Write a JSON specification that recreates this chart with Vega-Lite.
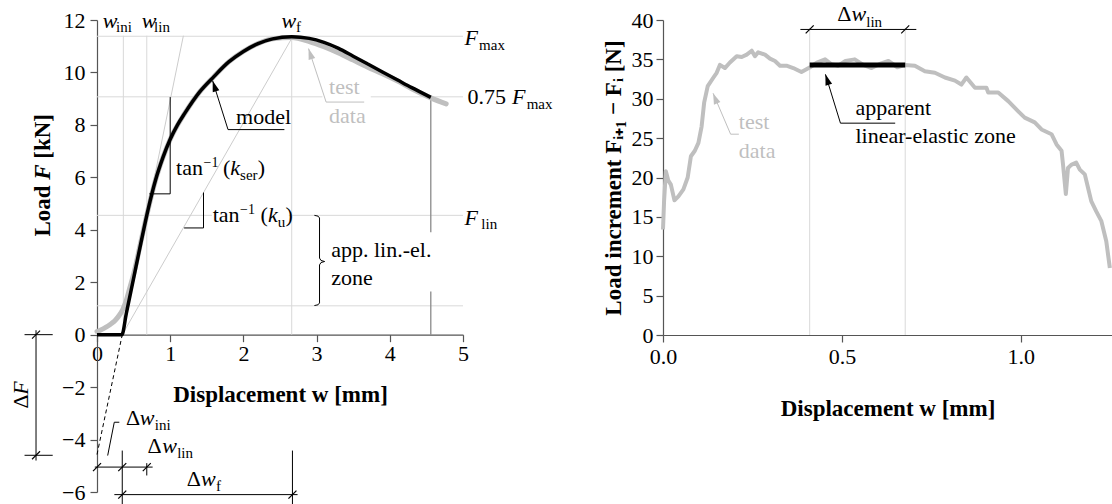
{
  "$schema": "https://vega.github.io/schema/vega-lite/v6.json",
  "background": "white",
  "autosize": {"type": "pad"},
  "padding": {"left": 9, "top": 3, "right": 0, "bottom": 0},
  "bounds": "flush",
  "spacing": 200,
  "config": {
    "view": {"stroke": null},
    "font": "Liberation Serif",
    "text": {"font": "Liberation Serif"},
    "axis": {"labelFont": "Liberation Serif", "titleFont": "Liberation Serif", "labelFontSize": 22, "titleFontSize": 23, "titleFontWeight": "bold", "labelColor": "black", "titleColor": "black", "domainColor": "#555555", "tickColor": "#555555", "tickSize": 7, "grid": false, "labelFlush": false, "labelOverlap": false, "domainWidth": 1.2, "tickWidth": 1.2}
  },
  "datasets": {
    "segL": [
      {"x": 0.36, "y": 0, "x2": 0.36, "y2": 11.4, "k": "grid"},
      {"x": 0.68, "y": 0, "x2": 0.68, "y2": 11.4, "k": "grid"},
      {"x": 2.66, "y": 0, "x2": 2.66, "y2": 11.36, "k": "grid"},
      {"x": 0, "y": 11.38, "x2": 5, "y2": 11.38, "k": "grid"},
      {"x": 0, "y": 9.07, "x2": 3.08, "y2": 9.07, "k": "grid"},
      {"x": 3.74, "y": 9.07, "x2": 5, "y2": 9.07, "k": "grid"},
      {"x": 0, "y": 4.55, "x2": 1.57, "y2": 4.55, "k": "grid"},
      {"x": 2.62, "y": 4.55, "x2": 5, "y2": 4.55, "k": "grid"},
      {"x": 0, "y": 1.1, "x2": 5, "y2": 1.1, "k": "grid"},
      {"x": 0.345, "y": 0, "x2": 1.18, "y2": 11.4, "k": "kl"},
      {"x": 0.345, "y": 0, "x2": 2.66, "y2": 11.3, "k": "kl"},
      {"x": 4.56, "y": 9.05, "x2": 4.56, "y2": 3.91, "k": "dg"},
      {"x": 4.56, "y": 1.65, "x2": 4.56, "y2": 0, "k": "dg"},
      {"x": 0.715, "y": 5.37, "x2": 1.0, "y2": 5.37, "k": "b"},
      {"x": 1.0, "y": 5.37, "x2": 1.0, "y2": 9.06, "k": "b"},
      {"x": 1.19, "y": 4.07, "x2": 1.455, "y2": 4.07, "k": "b"},
      {"x": 1.455, "y": 4.07, "x2": 1.455, "y2": 5.42, "k": "b"},
      {"x": 2.56, "y": 7.82, "x2": 1.79, "y2": 7.82, "k": "b"},
      {"x": 1.79, "y": 7.82, "x2": 1.58, "y2": 9.68, "k": "b"},
      {"x": 0.146, "y": -4.61, "x2": 0.236, "y2": -3.34, "k": "b"},
      {"x": 0.236, "y": -3.34, "x2": 0.305, "y2": -3.34, "k": "b"},
      {"x": -0.03, "y": -5.05, "x2": 0.76, "y2": -5.05, "k": "b"},
      {"x": 0.345, "y": -4.42, "x2": 0.345, "y2": -6.46, "k": "b"},
      {"x": 0.68, "y": -4.9, "x2": 0.68, "y2": -5.37, "k": "b"},
      {"x": 2.67, "y": -4.42, "x2": 2.67, "y2": -6.5, "k": "b"},
      {"x": 0.237, "y": -6.1, "x2": 2.74, "y2": -6.1, "k": "b"},
      {"x": -0.833, "y": 0.17, "x2": -0.833, "y2": -4.8, "k": "b"},
      {"x": -0.99, "y": 0, "x2": -0.605, "y2": 0, "k": "b"},
      {"x": -0.99, "y": -4.6, "x2": -0.605, "y2": -4.6, "k": "b"},
      {"x": 0, "y": -4.57, "x2": 0.345, "y2": 0, "k": "dash"},
      {"x": 3.65, "y": 8.87, "x2": 3.13, "y2": 8.87, "k": "gl"},
      {"x": 3.13, "y": 8.87, "x2": 2.89, "y2": 10.91, "k": "gl"}
    ],
    "ptL": [
      {"x": 0, "y": -5.05, "k": "sl"},
      {"x": 0.345, "y": -5.05, "k": "sl"},
      {"x": 0.68, "y": -5.05, "k": "sl"},
      {"x": 0.345, "y": -6.1, "k": "sl"},
      {"x": 2.67, "y": -6.1, "k": "sl"},
      {"x": -0.833, "y": 0, "k": "sl"},
      {"x": -0.833, "y": -4.6, "k": "sl"},
      {"x": 1.58, "y": 9.68, "k": "ab"},
      {"x": 2.89, "y": 10.91, "k": "ag"}
    ],
    "braceL": [
      {"x": 2.97, "y": 4.55, "o": 1}, {"x": 3.02, "y": 4.52, "o": 2}, {"x": 3.04, "y": 4.45, "o": 3},
      {"x": 3.04, "y": 2.92, "o": 4}, {"x": 3.06, "y": 2.83, "o": 5}, {"x": 3.11, "y": 2.79, "o": 6},
      {"x": 3.06, "y": 2.75, "o": 7}, {"x": 3.04, "y": 2.66, "o": 8}, {"x": 3.04, "y": 1.21, "o": 9},
      {"x": 3.02, "y": 1.14, "o": 10}, {"x": 2.97, "y": 1.11, "o": 11}
    ],
    "modelL": [
      {"x": 0, "y": 0}, {"x": 0.34, "y": 0}, {"x": 0.4, "y": 0.8}, {"x": 0.5, "y": 2.15}, {"x": 0.6, "y": 3.5},
      {"x": 0.7, "y": 4.8}, {"x": 0.8, "y": 5.9}, {"x": 0.9, "y": 6.75}, {"x": 1.0, "y": 7.45}, {"x": 1.1, "y": 8.0},
      {"x": 1.2, "y": 8.45}, {"x": 1.4, "y": 9.25}, {"x": 1.6, "y": 9.85}, {"x": 1.8, "y": 10.4}, {"x": 2.0, "y": 10.8},
      {"x": 2.2, "y": 11.1}, {"x": 2.4, "y": 11.28}, {"x": 2.66, "y": 11.36}, {"x": 2.9, "y": 11.3}, {"x": 3.1, "y": 11.15},
      {"x": 3.3, "y": 10.92}, {"x": 3.5, "y": 10.62}, {"x": 3.7, "y": 10.32}, {"x": 3.9, "y": 10.02}, {"x": 4.1, "y": 9.72},
      {"x": 4.3, "y": 9.42}, {"x": 4.56, "y": 9.05}
    ],
    "testL": [
      {"x": 0, "y": 0.12}, {"x": 0.05, "y": 0.18}, {"x": 0.1, "y": 0.25}, {"x": 0.15, "y": 0.33}, {"x": 0.2, "y": 0.43},
      {"x": 0.25, "y": 0.55}, {"x": 0.3, "y": 0.72}, {"x": 0.35, "y": 0.95}, {"x": 0.4, "y": 1.3}, {"x": 0.45, "y": 1.8},
      {"x": 0.5, "y": 2.3}, {"x": 0.6, "y": 3.55}, {"x": 0.7, "y": 4.8}, {"x": 0.8, "y": 5.9}, {"x": 0.9, "y": 6.75},
      {"x": 1.0, "y": 7.45}, {"x": 1.2, "y": 8.45}, {"x": 1.4, "y": 9.25}, {"x": 1.6, "y": 9.85}, {"x": 1.8, "y": 10.4},
      {"x": 2.0, "y": 10.8}, {"x": 2.2, "y": 11.1}, {"x": 2.4, "y": 11.28}, {"x": 2.66, "y": 11.33}, {"x": 2.9, "y": 11.18},
      {"x": 3.1, "y": 10.98}, {"x": 3.3, "y": 10.74}, {"x": 3.5, "y": 10.47}, {"x": 3.7, "y": 10.2}, {"x": 3.9, "y": 9.95},
      {"x": 4.1, "y": 9.68}, {"x": 4.3, "y": 9.38}, {"x": 4.56, "y": 9.03}, {"x": 4.77, "y": 8.8}
    ],
    "textL": [
      {"x": 0.078, "y": 11.7, "t": "w", "r": "i"},
      {"x": 0.26, "y": 11.53, "t": "ini", "r": "s"},
      {"x": 0.61, "y": 11.7, "t": "w", "r": "i"},
      {"x": 0.78, "y": 11.53, "t": "lin", "r": "s"},
      {"x": 2.52, "y": 11.7, "t": "w", "r": "i"},
      {"x": 2.72, "y": 11.53, "t": "f", "r": "s"},
      {"x": 5.02, "y": 11.04, "t": "F", "r": "i"},
      {"x": 5.22, "y": 10.87, "t": "max", "r": "s"},
      {"x": 5.06, "y": 8.81, "t": "0.75", "r": "n"},
      {"x": 5.67, "y": 8.81, "t": "F", "r": "i"},
      {"x": 5.87, "y": 8.62, "t": "max", "r": "s"},
      {"x": 5.02, "y": 4.19, "t": "F", "r": "i"},
      {"x": 5.25, "y": 4.02, "t": "lin", "r": "s"},
      {"x": 1.9, "y": 8.05, "t": "model", "r": "n"},
      {"x": 3.17, "y": 9.19, "t": "test", "r": "g"},
      {"x": 3.17, "y": 8.07, "t": "data", "r": "g"},
      {"x": 1.08, "y": 6.08, "t": "tan", "r": "n"},
      {"x": 1.455, "y": 6.38, "t": "−1", "r": "sup"},
      {"x": 1.72, "y": 6.08, "t": "(", "r": "n"},
      {"x": 1.82, "y": 6.08, "t": "k", "r": "i"},
      {"x": 1.955, "y": 5.89, "t": "ser", "r": "s"},
      {"x": 2.195, "y": 6.08, "t": ")", "r": "n"},
      {"x": 1.58, "y": 4.29, "t": "tan", "r": "n"},
      {"x": 1.955, "y": 4.61, "t": "−1", "r": "sup"},
      {"x": 2.235, "y": 4.29, "t": "(", "r": "n"},
      {"x": 2.335, "y": 4.29, "t": "k", "r": "i"},
      {"x": 2.47, "y": 4.1, "t": "u", "r": "s"},
      {"x": 2.575, "y": 4.29, "t": ")", "r": "n"},
      {"x": 3.2, "y": 2.96, "t": "app. lin.-el.", "r": "n"},
      {"x": 3.2, "y": 1.88, "t": "zone", "r": "n"},
      {"x": 0.396, "y": -3.45, "t": "Δ", "r": "n"},
      {"x": 0.585, "y": -3.45, "t": "w", "r": "i"},
      {"x": 0.79, "y": -3.63, "t": "ini", "r": "s"},
      {"x": 0.69, "y": -4.52, "t": "Δ", "r": "n"},
      {"x": 0.89, "y": -4.52, "t": "w", "r": "i"},
      {"x": 1.095, "y": -4.7, "t": "lin", "r": "s"},
      {"x": 1.225, "y": -5.78, "t": "Δ", "r": "n"},
      {"x": 1.42, "y": -5.78, "t": "w", "r": "i"},
      {"x": 1.625, "y": -5.95, "t": "f", "r": "s"},
      {"x": -0.947, "y": -2.82, "t": "Δ", "r": "rn"},
      {"x": -0.947, "y": -2.29, "t": "F", "r": "ri"},
      {"x": -0.642, "y": 3.74, "t": "Load", "r": "tb"},
      {"x": -0.642, "y": 5.91, "t": "F", "r": "tbi"},
      {"x": -0.642, "y": 6.71, "t": "[kN]", "r": "tb"}
    ],
    "segR": [
      {"x": 0.41, "y": 0, "x2": 0.41, "y2": 39.0, "k": "grid"},
      {"x": 0.677, "y": 0, "x2": 0.677, "y2": 39.0, "k": "grid"},
      {"x": 0.384, "y": 38.8, "x2": 0.708, "y2": 38.8, "k": "b"},
      {"x": 0.649, "y": 26.9, "x2": 0.496, "y2": 26.9, "k": "b"},
      {"x": 0.496, "y": 26.9, "x2": 0.454, "y2": 33.1, "k": "b"},
      {"x": 0.212, "y": 25.5, "x2": 0.189, "y2": 25.5, "k": "gl"},
      {"x": 0.189, "y": 25.5, "x2": 0.14, "y2": 30.7, "k": "gl"},
      {"x": 0.41, "y": 34.3, "x2": 0.677, "y2": 34.3, "k": "bar"}
    ],
    "ptR": [
      {"x": 0.41, "y": 38.8, "k": "sl"},
      {"x": 0.677, "y": 38.8, "k": "sl"},
      {"x": 0.454, "y": 33.1, "k": "ab"},
      {"x": 0.14, "y": 30.7, "k": "ag"}
    ],
    "textR": [
      {"x": 0.487, "y": 39.87, "t": "Δ", "r": "n"},
      {"x": 0.527, "y": 39.87, "t": "w", "r": "i"},
      {"x": 0.568, "y": 39.1, "t": "lin", "r": "s"},
      {"x": 0.538, "y": 27.9, "t": "apparent", "r": "n"},
      {"x": 0.538, "y": 24.4, "t": "linear-elastic zone", "r": "n"},
      {"x": 0.212, "y": 26.1, "t": "test", "r": "g"},
      {"x": 0.212, "y": 22.5, "t": "data", "r": "g"}
    ],
    "incR": [
      {"x": 0, "y": 13.4}, {"x": 0.003, "y": 17.0}, {"x": 0.008, "y": 20.8}, {"x": 0.015, "y": 19.6}, {"x": 0.022, "y": 19.1},
      {"x": 0.032, "y": 17.1}, {"x": 0.043, "y": 17.6}, {"x": 0.057, "y": 18.5}, {"x": 0.069, "y": 20.0}, {"x": 0.078, "y": 22.7},
      {"x": 0.089, "y": 23.4}, {"x": 0.099, "y": 24.4}, {"x": 0.108, "y": 26.5}, {"x": 0.115, "y": 29.5}, {"x": 0.125, "y": 31.6},
      {"x": 0.141, "y": 32.7}, {"x": 0.15, "y": 33.3}, {"x": 0.159, "y": 34.3}, {"x": 0.173, "y": 33.9}, {"x": 0.187, "y": 34.6},
      {"x": 0.206, "y": 35.4}, {"x": 0.22, "y": 35.3}, {"x": 0.234, "y": 35.6}, {"x": 0.248, "y": 36.1}, {"x": 0.257, "y": 35.4},
      {"x": 0.266, "y": 35.9}, {"x": 0.285, "y": 35.6}, {"x": 0.299, "y": 35.1}, {"x": 0.313, "y": 34.8}, {"x": 0.327, "y": 34.2},
      {"x": 0.345, "y": 34.2}, {"x": 0.364, "y": 33.9}, {"x": 0.387, "y": 33.4}, {"x": 0.411, "y": 34.0}, {"x": 0.43, "y": 34.6},
      {"x": 0.453, "y": 35.0}, {"x": 0.47, "y": 34.4}, {"x": 0.49, "y": 34.2}, {"x": 0.51, "y": 34.8}, {"x": 0.536, "y": 35.0},
      {"x": 0.56, "y": 34.3}, {"x": 0.583, "y": 33.9}, {"x": 0.61, "y": 34.5}, {"x": 0.63, "y": 34.8}, {"x": 0.655, "y": 34.0},
      {"x": 0.676, "y": 34.3}, {"x": 0.704, "y": 34.2}, {"x": 0.732, "y": 33.5}, {"x": 0.76, "y": 33.3}, {"x": 0.788, "y": 32.7},
      {"x": 0.816, "y": 32.3}, {"x": 0.834, "y": 31.8}, {"x": 0.848, "y": 32.7}, {"x": 0.872, "y": 31.4}, {"x": 0.904, "y": 31.4},
      {"x": 0.909, "y": 30.8}, {"x": 0.937, "y": 30.8}, {"x": 0.965, "y": 29.7}, {"x": 0.993, "y": 28.4}, {"x": 1.011, "y": 27.6},
      {"x": 1.039, "y": 27.0}, {"x": 1.058, "y": 26.1}, {"x": 1.086, "y": 25.5}, {"x": 1.1, "y": 24.2}, {"x": 1.114, "y": 23.4},
      {"x": 1.118, "y": 21.7}, {"x": 1.126, "y": 17.9}, {"x": 1.132, "y": 21.2}, {"x": 1.141, "y": 21.6}, {"x": 1.155, "y": 21.9},
      {"x": 1.165, "y": 21.0}, {"x": 1.179, "y": 20.4}, {"x": 1.188, "y": 18.7}, {"x": 1.197, "y": 17.0}, {"x": 1.211, "y": 15.7},
      {"x": 1.225, "y": 14.5}, {"x": 1.239, "y": 11.9}, {"x": 1.249, "y": 8.5}
    ]
  },
  "hconcat": [
    {
      "width": 366,
      "height": 472,
      "encoding": {
        "x": {"field": "x", "type": "quantitative", "scale": {"domain": [0, 5], "nice": false, "zero": false},
              "axis": {"values": [0, 1, 2, 3, 4, 5], "offset": -157.33, "labelPadding": 2, "title": "Displacement w [mm]", "titlePadding": 19}},
        "y": {"field": "y", "type": "quantitative", "scale": {"domain": [-6, 12], "nice": false, "zero": false},
              "axis": {"values": [-6, -4, -2, 0, 2, 4, 6, 8, 10, 12], "title": null, "labelPadding": 5}}
      },
      "layer": [
        {"data": {"name": "segL"}, "transform": [{"filter": "datum.k === 'grid'"}], "mark": {"type": "rule", "color": "#d9d9d9", "strokeWidth": 1}, "encoding": {"x2": {"field": "x2"}, "y2": {"field": "y2"}}},
        {"data": {"name": "segL"}, "transform": [{"filter": "datum.k === 'kl'"}], "mark": {"type": "rule", "color": "#cccccc", "strokeWidth": 1}, "encoding": {"x2": {"field": "x2"}, "y2": {"field": "y2"}}},
        {"data": {"name": "segL"}, "transform": [{"filter": "datum.k === 'dg'"}], "mark": {"type": "rule", "color": "#8a8a8a", "strokeWidth": 1.3}, "encoding": {"x2": {"field": "x2"}, "y2": {"field": "y2"}}},
        {"data": {"name": "testL"}, "mark": {"type": "line", "color": "#bfbfbf", "strokeWidth": 5, "interpolate": "monotone", "strokeCap": "round"}, "encoding": {}},
        {"data": {"name": "modelL"}, "mark": {"type": "line", "color": "black", "strokeWidth": 3.5, "interpolate": "monotone"}, "encoding": {}},
        {"data": {"name": "segL"}, "transform": [{"filter": "datum.k === 'b'"}], "mark": {"type": "rule", "color": "black", "strokeWidth": 1}, "encoding": {"x2": {"field": "x2"}, "y2": {"field": "y2"}}},
        {"data": {"name": "segL"}, "transform": [{"filter": "datum.k === 'dash'"}], "mark": {"type": "rule", "color": "black", "strokeWidth": 1, "strokeDash": [4, 3]}, "encoding": {"x2": {"field": "x2"}, "y2": {"field": "y2"}}},
        {"data": {"name": "segL"}, "transform": [{"filter": "datum.k === 'gl'"}], "mark": {"type": "rule", "color": "#bfbfbf", "strokeWidth": 1}, "encoding": {"x2": {"field": "x2"}, "y2": {"field": "y2"}}},
        {"data": {"name": "braceL"}, "mark": {"type": "line", "color": "black", "strokeWidth": 1}, "encoding": {"order": {"field": "o", "type": "quantitative"}}},
        {"data": {"name": "ptL"}, "transform": [{"filter": "datum.k === 'sl'"}], "mark": {"type": "point", "shape": "M-1,1L1,-1", "size": 64, "filled": false, "color": "black", "strokeWidth": 1.2, "opacity": 1}},
        {"data": {"name": "ptL"}, "transform": [{"filter": "datum.k === 'ab'"}], "mark": {"type": "point", "shape": "M0,0L0.38,1.2L-0.38,1.2Z", "size": 330, "filled": true, "color": "black", "angle": -18, "opacity": 1}},
        {"data": {"name": "ptL"}, "transform": [{"filter": "datum.k === 'ag'"}], "mark": {"type": "point", "shape": "M0,0L0.38,1.2L-0.38,1.2Z", "size": 330, "filled": true, "color": "#bfbfbf", "angle": -18, "opacity": 1}},
        {"data": {"name": "textL"}, "transform": [{"filter": "datum.r === 'n'"}], "mark": {"type": "text", "fontSize": 22, "align": "left", "baseline": "alphabetic", "color": "black"}, "encoding": {"text": {"field": "t"}}},
        {"data": {"name": "textL"}, "transform": [{"filter": "datum.r === 'i'"}], "mark": {"type": "text", "fontSize": 22, "fontStyle": "italic", "align": "left", "baseline": "alphabetic", "color": "black"}, "encoding": {"text": {"field": "t"}}},
        {"data": {"name": "textL"}, "transform": [{"filter": "datum.r === 's'"}], "mark": {"type": "text", "fontSize": 15, "align": "left", "baseline": "alphabetic", "color": "black"}, "encoding": {"text": {"field": "t"}}},
        {"data": {"name": "textL"}, "transform": [{"filter": "datum.r === 'sup'"}], "mark": {"type": "text", "fontSize": 14, "align": "left", "baseline": "alphabetic", "color": "black"}, "encoding": {"text": {"field": "t"}}},
        {"data": {"name": "textL"}, "transform": [{"filter": "datum.r === 'g'"}], "mark": {"type": "text", "fontSize": 22, "align": "left", "baseline": "alphabetic", "color": "#bfbfbf"}, "encoding": {"text": {"field": "t"}}},
        {"data": {"name": "textL"}, "transform": [{"filter": "datum.r === 'rn'"}], "mark": {"type": "text", "fontSize": 22, "align": "left", "baseline": "alphabetic", "angle": 270, "color": "black"}, "encoding": {"text": {"field": "t"}}},
        {"data": {"name": "textL"}, "transform": [{"filter": "datum.r === 'ri'"}], "mark": {"type": "text", "fontSize": 22, "fontStyle": "italic", "align": "left", "baseline": "alphabetic", "angle": 270, "color": "black"}, "encoding": {"text": {"field": "t"}}},
        {"data": {"name": "textL"}, "transform": [{"filter": "datum.r === 'tb'"}], "mark": {"type": "text", "fontSize": 23, "fontWeight": "bold", "align": "left", "baseline": "alphabetic", "angle": 270, "color": "black"}, "encoding": {"text": {"field": "t"}}},
        {"data": {"name": "textL"}, "transform": [{"filter": "datum.r === 'tbi'"}], "mark": {"type": "text", "fontSize": 23, "fontWeight": "bold", "fontStyle": "italic", "align": "left", "baseline": "alphabetic", "angle": 270, "color": "black"}, "encoding": {"text": {"field": "t"}}}
      ]
    },
    {
      "width": 449,
      "height": 315,
      "encoding": {
        "x": {"field": "x", "type": "quantitative", "scale": {"domain": [0, 1.255], "nice": false, "zero": false},
              "axis": {"values": [0, 0.5, 1], "format": ".1f", "labelPadding": 4, "title": "Displacement w [mm]", "titlePadding": 30}},
        "y": {"field": "y", "type": "quantitative", "scale": {"domain": [0, 40], "nice": false, "zero": false},
              "axis": {"values": [0, 5, 10, 15, 20, 25, 30, 35, 40], "labelPadding": 3, "title": "Load increment Fᵢ₊₁ − Fᵢ [N]", "titlePadding": 6}}
      },
      "layer": [
        {"data": {"name": "segR"}, "transform": [{"filter": "datum.k === 'grid'"}], "mark": {"type": "rule", "color": "#d9d9d9", "strokeWidth": 1}, "encoding": {"x2": {"field": "x2"}, "y2": {"field": "y2"}}},
        {"data": {"name": "incR"}, "mark": {"type": "line", "color": "#bfbfbf", "strokeWidth": 4, "strokeJoin": "round"}, "encoding": {}},
        {"data": {"name": "segR"}, "transform": [{"filter": "datum.k === 'bar'"}], "mark": {"type": "rule", "color": "black", "strokeWidth": 5, "strokeCap": "butt"}, "encoding": {"x2": {"field": "x2"}, "y2": {"field": "y2"}}},
        {"data": {"name": "segR"}, "transform": [{"filter": "datum.k === 'b'"}], "mark": {"type": "rule", "color": "black", "strokeWidth": 1}, "encoding": {"x2": {"field": "x2"}, "y2": {"field": "y2"}}},
        {"data": {"name": "segR"}, "transform": [{"filter": "datum.k === 'gl'"}], "mark": {"type": "rule", "color": "#bfbfbf", "strokeWidth": 1}, "encoding": {"x2": {"field": "x2"}, "y2": {"field": "y2"}}},
        {"data": {"name": "ptR"}, "transform": [{"filter": "datum.k === 'sl'"}], "mark": {"type": "point", "shape": "M-1,1L1,-1", "size": 64, "filled": false, "color": "black", "strokeWidth": 1.2, "opacity": 1}},
        {"data": {"name": "ptR"}, "transform": [{"filter": "datum.k === 'ab'"}], "mark": {"type": "point", "shape": "M0,0L0.38,1.2L-0.38,1.2Z", "size": 330, "filled": true, "color": "black", "angle": -18, "opacity": 1}},
        {"data": {"name": "ptR"}, "transform": [{"filter": "datum.k === 'ag'"}], "mark": {"type": "point", "shape": "M0,0L0.38,1.2L-0.38,1.2Z", "size": 330, "filled": true, "color": "#bfbfbf", "angle": -22, "opacity": 1}},
        {"data": {"name": "textR"}, "transform": [{"filter": "datum.r === 'n'"}], "mark": {"type": "text", "fontSize": 22, "align": "left", "baseline": "alphabetic", "color": "black"}, "encoding": {"text": {"field": "t"}}},
        {"data": {"name": "textR"}, "transform": [{"filter": "datum.r === 'i'"}], "mark": {"type": "text", "fontSize": 22, "fontStyle": "italic", "align": "left", "baseline": "alphabetic", "color": "black"}, "encoding": {"text": {"field": "t"}}},
        {"data": {"name": "textR"}, "transform": [{"filter": "datum.r === 's'"}], "mark": {"type": "text", "fontSize": 15, "align": "left", "baseline": "alphabetic", "color": "black"}, "encoding": {"text": {"field": "t"}}},
        {"data": {"name": "textR"}, "transform": [{"filter": "datum.r === 'g'"}], "mark": {"type": "text", "fontSize": 22, "align": "left", "baseline": "alphabetic", "color": "#bfbfbf"}, "encoding": {"text": {"field": "t"}}}
      ]
    }
  ]
}
